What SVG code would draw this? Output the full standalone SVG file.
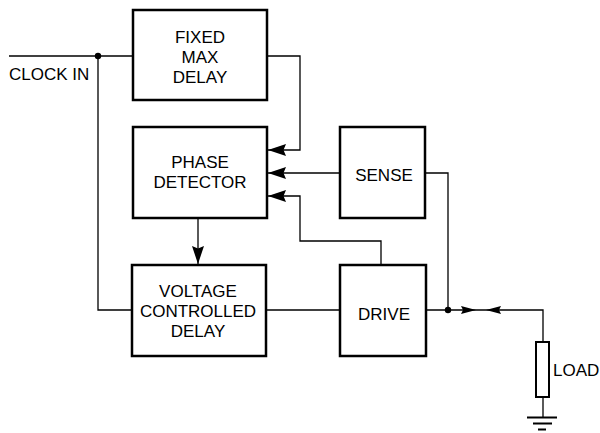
<svg xmlns="http://www.w3.org/2000/svg" width="600" height="433" viewBox="0 0 600 433">
<style>
.box{fill:#fff;stroke:#000;stroke-width:2.5}
.wire{fill:none;stroke:#000;stroke-width:1.3}
.lbl{font-family:"Liberation Sans",Arial,Helvetica,sans-serif;font-size:17px;fill:#000}
.c{text-anchor:middle}
.gnd{stroke:#000;stroke-width:2}
.head{fill:#000;stroke:none}
</style>
<defs>
<marker id="arr" markerUnits="userSpaceOnUse" markerWidth="20" markerHeight="14" viewBox="-1 -7 20 14" refX="18" refY="0" orient="auto">
<path d="M0,-6 L18,0 L0,6 L2.5,0 z" fill="#000"/>
</marker>
</defs>
<rect width="600" height="433" fill="#fff"/>
<g id="connectors">
<path class="wire" d="M9,56 H133"/>
<path class="wire" d="M98,56 V310 H132"/>
<path class="wire" d="M267,56 H300 V150 H268" marker-end="url(#arr)"/>
<path class="wire" d="M340,173 H268" marker-end="url(#arr)"/>
<path class="wire" d="M381,265 V241 H300 V196 H268" marker-end="url(#arr)"/>
<path class="wire" d="M198,218 V264" marker-end="url(#arr)"/>
<path class="wire" d="M266,310 H340"/>
<path class="wire" d="M425,173 H448 V310"/>
<path class="wire" d="M426,310 H543 V342"/>
<circle cx="98" cy="56" r="3.2" fill="#000"/>
<circle cx="448" cy="310" r="3.2" fill="#000"/>
<path class="head" d="M461,306 L476,310 L461,314 L463,310 z"/>
<path class="head" d="M501,306 L486,310 L501,314 L499,310 z"/>
</g>
<text class="lbl" x="9" y="80">CLOCK IN</text>
<g id="fixed">
<rect class="box" x="133" y="10" width="134" height="90"/>
<text class="lbl c" x="200" y="43">FIXED</text>
<text class="lbl c" x="200" y="63">MAX</text>
<text class="lbl c" x="200" y="83">DELAY</text>
</g>
<g id="phase">
<rect class="box" x="133" y="127" width="134" height="91"/>
<text class="lbl c" x="200" y="168">PHASE</text>
<text class="lbl c" x="200" y="188">DETECTOR</text>
</g>
<g id="sense">
<rect class="box" x="340" y="127" width="85" height="91"/>
<text class="lbl c" x="384" y="181">SENSE</text>
</g>
<g id="vcd">
<rect class="box" x="132" y="265" width="134" height="91"/>
<text class="lbl c" x="198" y="297">VOLTAGE</text>
<text class="lbl c" x="198" y="317">CONTROLLED</text>
<text class="lbl c" x="198" y="337">DELAY</text>
</g>
<g id="drive">
<rect class="box" x="340" y="265" width="86" height="91"/>
<text class="lbl c" x="384" y="320">DRIVE</text>
</g>
<g id="load">
<rect x="536" y="342" width="13" height="55" fill="#fff" stroke="#000" stroke-width="2"/>
<path class="wire" d="M543,397 V417"/>
<text class="lbl" x="553" y="376">LOAD</text>
</g>
<g id="ground">
<path class="gnd" d="M527,417.5 H557 M533,423.5 H552 M538,429.5 H546"/>
</g>
</svg>
